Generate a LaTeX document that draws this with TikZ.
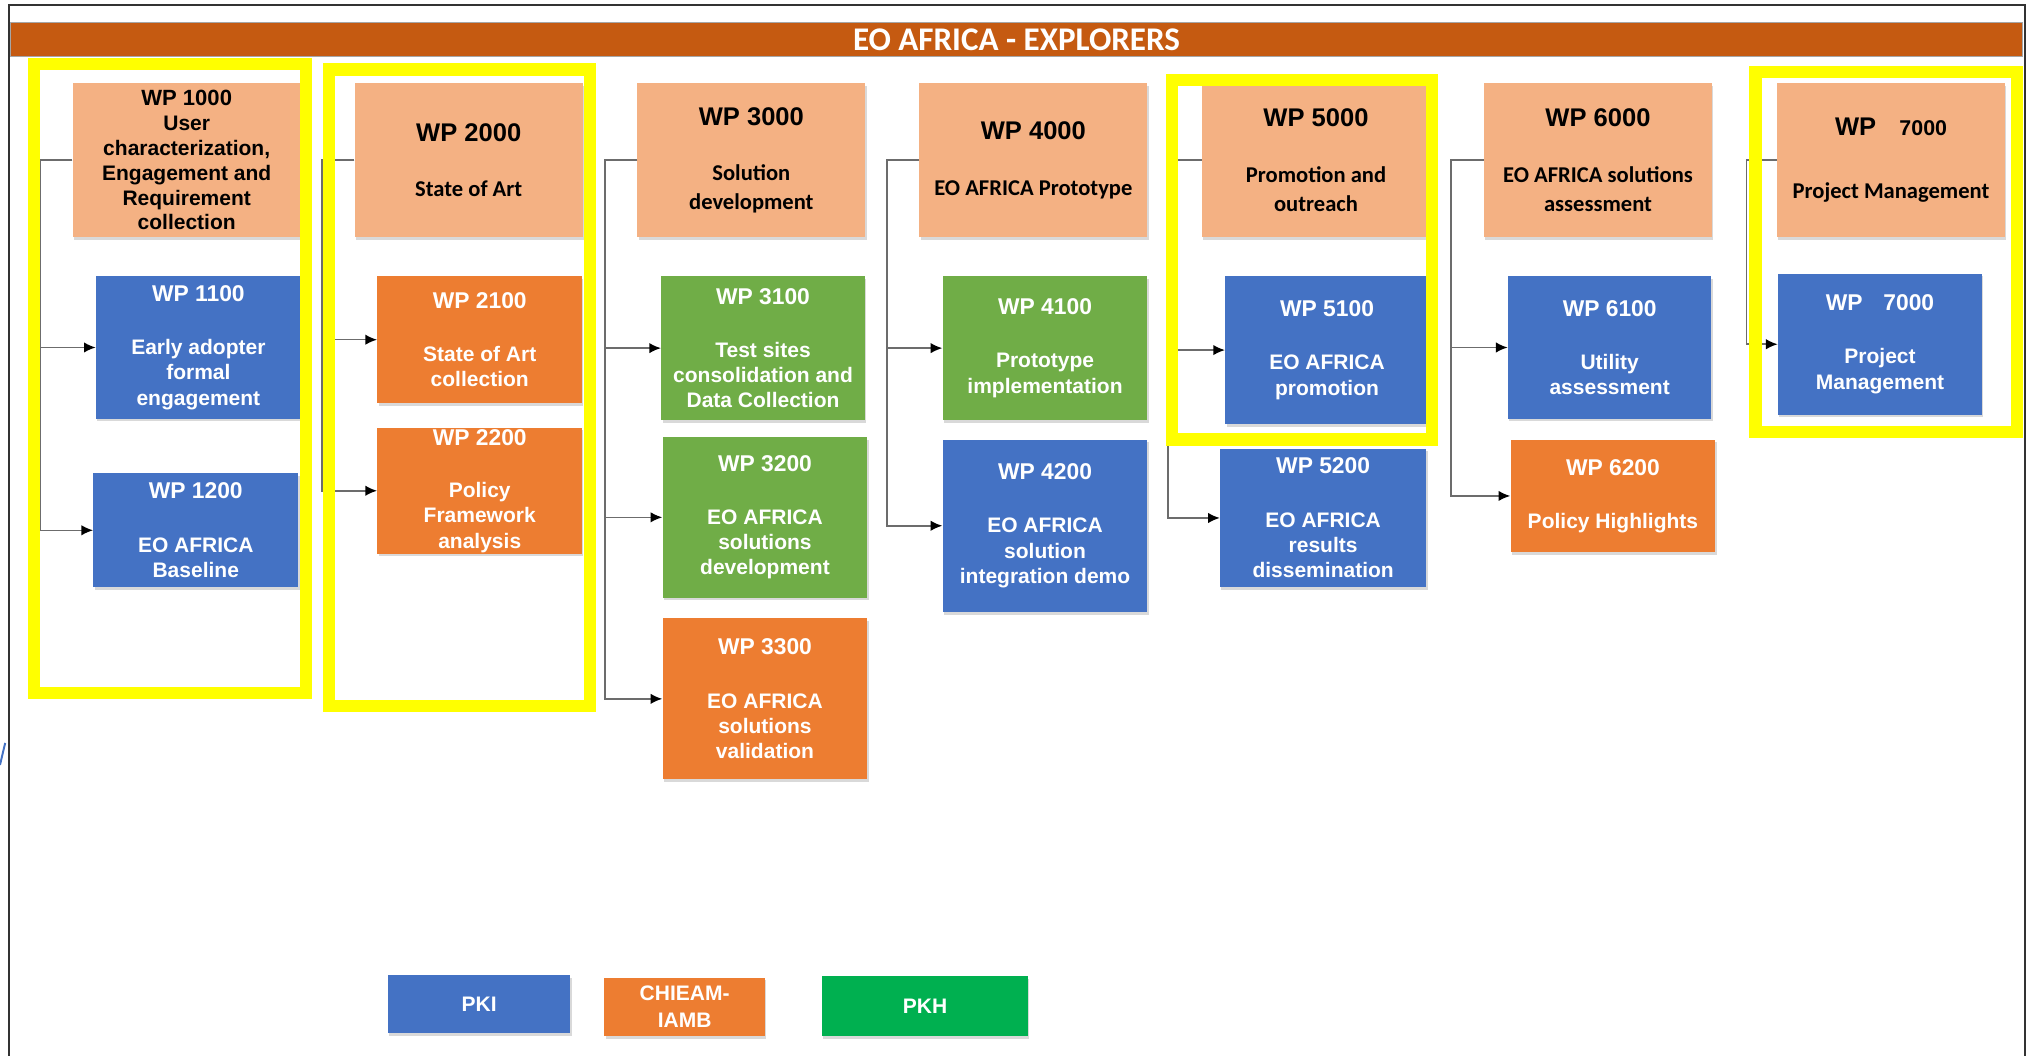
\documentclass[tikz,border=0pt]{standalone}
\usepackage{fontspec}
\setmainfont{Liberation Sans}
\newfontfamily\calib{Carlito}
\usetikzlibrary{positioning, calc, arrows.meta, shadows}

\definecolor{barbrown}{HTML}{C55A11}
\definecolor{wpsand}{HTML}{F4B183}
\definecolor{wpblue}{HTML}{4472C4}
\definecolor{wporange}{HTML}{ED7D31}
\definecolor{wpgreen}{HTML}{70AD47}
\definecolor{pkhgreen}{HTML}{00B050}
\definecolor{hiyellow}{HTML}{FFFF00}

\newcommand{\topttl}[1]{{\rmfamily\fontsize{19.7}{22}\selectfont #1}}
\newcommand{\subttl}[1]{{\fontsize{17.6}{19.5}\selectfont #1}}

\begin{document}
\begin{tikzpicture}[x=1pt, y=-1pt,
    box/.style={inner sep=0pt, align=center, font=\bfseries\fontsize{16.2}{19.5}\selectfont,
                drop shadow={shadow xshift=1pt, shadow yshift=-2pt, opacity=0.3}},
    wptop/.style={box, fill=wpsand, text=black, minimum width=176pt, minimum height=119pt,
                  font=\calib\bfseries\fontsize{17.4}{22}\selectfont},
    wpsub/.style={box, text=white, minimum width=158pt},
    conn/.style={draw=gray!85!black, line width=1.2pt, -{Latex[color=black, length=9pt, width=8pt]}},
    hilite/.style={draw=hiyellow, line width=9.5pt}]
                \useasboundingbox (0,0) rectangle (1568,814);
                \draw[line width=1.5pt, black!80] (7,4) rectangle (1561.5,830);
                \draw[wpblue, line width=1.5pt] (0,590) -- (4,573);

                \node[fill=barbrown, draw=gray!70, minimum width=1552pt, minimum height=26pt, inner sep=0pt,
                      text=white, font=\calib\bfseries\fontsize{25.5}{26}\selectfont] (bar) at (784,30.5) {EO AFRICA - EXPLORERS};

                \node[wptop, font=\bfseries\fontsize{16.2}{19.2}\selectfont] (wp1000) at (144,123.5)
                    {{\fontsize{17}{19.2}\selectfont WP 1000}\\ User\\ characterization,\\ Engagement and\\ Requirement\\ collection};
                \node[wptop] (wp2000) at (361.5,123.5) {\topttl{WP 2000}\\[21pt] State of Art};
                \node[wptop] (wp3000) at (579.5,123.5) {\topttl{WP 3000}\\[21pt] Solution\\ development};
                \node[wptop] (wp4000) at (797,123.5) {\topttl{WP 4000}\\[21pt] EO AFRICA Prototype};
                \node[wptop] (wp5000) at (1015,123.5) {\topttl{WP 5000}\\[21pt] Promotion and\\ outreach};
                \node[wptop] (wp6000) at (1232.5,123.5) {\topttl{WP 6000}\\[21pt] EO AFRICA solutions\\ assessment};
                \node[wptop] (wp7000) at (1458.5,123.5)
                    {{\rmfamily\fontsize{19.7}{22}\selectfont WP\hspace{18pt}{\fontsize{16.5}{22}\selectfont 7000}}\\[27pt] Project Management};

                \node[wpsub, fill=wpblue, minimum height=110pt] (wp1100) at (153,268) {\subttl{WP 1100}\\[21.5pt] Early adopter\\ formal\\ engagement};
                \node[wpsub, fill=wpblue, minimum height=88pt] (wp1200) at (151,409) {\subttl{WP 1200}\\[21.5pt] EO AFRICA\\ Baseline};
                \node[wpsub, fill=wporange, minimum height=98pt] (wp2100) at (370,262) {\subttl{WP 2100}\\[21.5pt] State of Art\\ collection};
                \node[wpsub, fill=wporange, minimum height=97pt] (wp2200) at (370,378.5) {\subttl{WP 2200}\\[21pt] Policy\\ Framework\\ analysis};
                \node[wpsub, fill=wpgreen, minimum width=157pt, minimum height=111pt] (wp3100) at (588.5,268.5) {\subttl{WP 3100}\\[21.5pt] Test sites\\ consolidation and\\ Data Collection};
                \node[wpsub, fill=wpgreen, minimum height=124pt] (wp3200) at (590,399) {\subttl{WP 3200}\\[21.5pt] EO AFRICA\\ solutions\\ development};
                \node[wpsub, fill=wporange, minimum height=124pt] (wp3300) at (590,539) {\subttl{WP 3300}\\[21.5pt] EO AFRICA\\ solutions\\ validation};
                \node[wpsub, fill=wpgreen, minimum height=111pt] (wp4100) at (806,268.5) {\subttl{WP 4100}\\[21.5pt] Prototype\\ implementation};
                \node[wpsub, fill=wpblue, minimum height=133pt] (wp4200) at (806,405.5) {\subttl{WP 4200}\\[21.5pt] EO AFRICA\\ solution\\ integration demo};
                \node[wpsub, fill=wpblue, minimum width=157pt, minimum height=114pt] (wp5100) at (1023.5,270) {\subttl{WP 5100}\\[21.5pt] EO AFRICA\\ promotion};
                \node[wpsub, fill=wpblue, minimum width=159pt, minimum height=107pt] (wp5200) at (1020.5,399.5) {\subttl{WP 5200}\\[21.5pt] EO AFRICA\\ results\\ dissemination};
                \node[wpsub, fill=wpblue, minimum width=157pt, minimum height=110pt] (wp6100) at (1241.5,268) {\subttl{WP 6100}\\[21.5pt] Utility\\ assessment};
                \node[wpsub, fill=wporange, minimum height=87pt] (wp6200) at (1244,382.5) {\subttl{WP 6200}\\[21.5pt] Policy Highlights};
                \node[wpsub, fill=wpblue, minimum width=157.5pt, minimum height=109pt] (wp7100) at (1450,265.5) {\subttl{WP\hspace{16pt}7000}\\[21.5pt] Project\\ Management};

                \node[wpsub, fill=wpblue, minimum width=141pt, minimum height=45pt] (pki) at (369.5,774.5) {PKI};
                \node[wpsub, fill=wporange, minimum width=124pt, minimum height=45pt,
                      font=\bfseries\fontsize{16.2}{21}\selectfont] (chieam) at (528,776.5) {CHIEAM-\\IAMB};
                \node[wpsub, fill=pkhgreen, minimum width=159pt, minimum height=46pt] (pkh) at (713.5,776) {PKH};

                \coordinate (bus1) at (31,123.5);
                \coordinate (bus2) at (248.5,123.5);
                \coordinate (bus3) at (466.5,123.5);
                \coordinate (bus4) at (684,123.5);
                \coordinate (bus5) at (901,123.5);
                \coordinate (bus6) at (1119,123.5);
                \coordinate (bus7) at (1347,123.5);

                \draw[conn] (wp1000.west) -- (bus1) |- (wp1100.west);
                \draw[conn] (wp1000.west) -- (bus1) |- (wp1200.west);
                \draw[conn] (wp2000.west) -- (bus2) |- (wp2100.west);
                \draw[conn] (wp2000.west) -- (bus2) |- (wp2200.west);
                \draw[conn] (wp3000.west) -- (bus3) |- (wp3100.west);
                \draw[conn] (wp3000.west) -- (bus3) |- (wp3200.west);
                \draw[conn] (wp3000.west) -- (bus3) |- (wp3300.west);
                \draw[conn] (wp4000.west) -- (bus4) |- (wp4100.west);
                \draw[conn] (wp4000.west) -- (bus4) |- (wp4200.west);
                \draw[conn] (wp5000.west) -- (bus5) |- (wp5100.west);
                \draw[conn] (wp5000.west) -- (bus5) |- (wp5200.west);
                \draw[conn] (wp6000.west) -- (bus6) |- (wp6100.west);
                \draw[conn] (wp6000.west) -- (bus6) |- (wp6200.west);
                \draw[conn] (wp7000.west) -- (bus7) |- (wp7100.west);

                \draw[hilite] (26,49.5) rectangle (236,534.5);
                \draw[hilite] (254,53.5) rectangle (455,544.5);
                \draw[hilite] (904,61.7) rectangle (1104.5,339);
                \draw[hilite] (1354,55.7) rectangle (1555.7,333);
            \end{tikzpicture}
\end{document}
